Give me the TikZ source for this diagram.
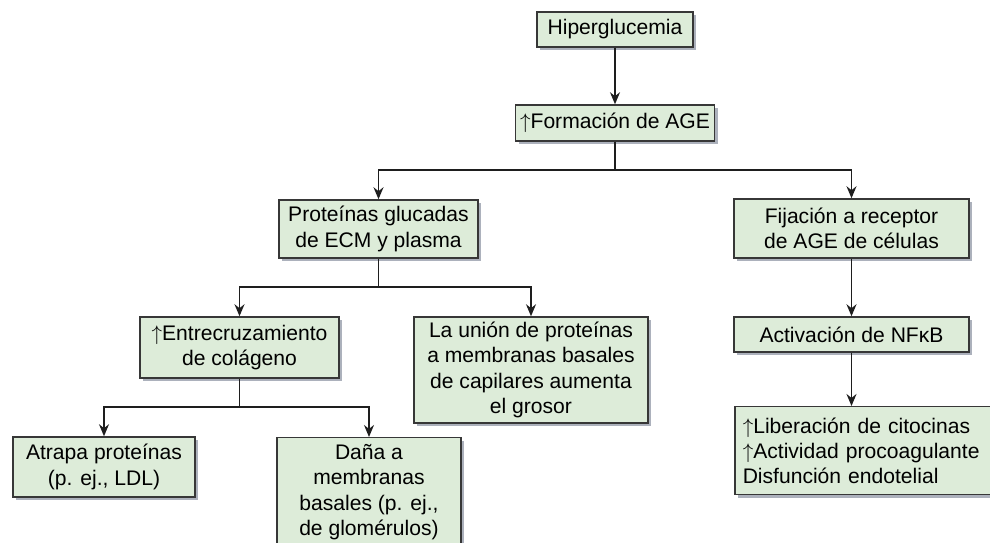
\documentclass[tikz,border=0pt]{standalone}
\usepackage{fontspec}
\setsansfont{Liberation Sans}
\usetikzlibrary{shadows, arrows.meta}
\definecolor{boxfill}{RGB}{221,236,217}
\definecolor{boxline}{RGB}{55,55,55}
\definecolor{shadowgray}{RGB}{172,177,188}
\definecolor{linkgray}{RGB}{30,30,30}

\tikzset{
  box/.style={draw=boxline, fill=boxfill, line width=0.85pt, align=center, inner sep=2pt,
    drop shadow={shadow xshift=0.06cm, shadow yshift=-0.06cm, fill=shadowgray, opacity=1}},
  arr/.style={-{Stealth[length=2.4mm, width=2mm]}, line width=0.75pt, draw=linkgray},
  link/.style={line width=0.75pt, draw=linkgray},
}

\begin{document}
\begin{tikzpicture}[font=\sffamily\fontsize{12}{14.4}\selectfont]
\useasboundingbox (0,0) rectangle (19.8,10.86);
\clip (0,0) rectangle (19.8,10.86);

% ---- top of the chain ----
\node[box, minimum width=3.12cm, minimum height=0.70cm] (hyper) at (12.30,10.27) {Hiperglucemia};
\node[box, minimum width=3.98cm, minimum height=0.72cm] (form) at (12.30,8.40) {$\uparrow$Formación de AGE};

% ---- second level ----
\node[box, minimum width=3.98cm, minimum height=1.16cm] (prot) at (7.57,6.28) {Proteínas glucadas\\de ECM y plasma};
\node[box, minimum width=4.70cm, minimum height=1.18cm] (fij) at (17.03,6.29) {Fijación a receptor\\de AGE de células};

% ---- left branch ----
\node[box, minimum width=3.98cm, minimum height=1.22cm] (entre) at (4.79,3.91) {$\uparrow$Entrecruzamiento\\de colágeno};
\node[box, minimum width=4.68cm, minimum height=2.12cm] (union) at (10.62,3.46)
   {La unión de proteínas\\a membranas basales\\de capilares aumenta\\el grosor};
\node[box, minimum width=3.64cm, minimum height=1.20cm] (atrapa) at (2.08,1.52) {Atrapa proteínas\\(p. ej., LDL)};
\node[box, anchor=north, minimum width=3.68cm, minimum height=2.18cm] (dana) at (7.38,2.12)
   {Daña a\\membranas\\basales (p. ej.,\\de glomérulos)};

% ---- right branch ----
\node[box, minimum width=4.70cm, minimum height=0.70cm] (activ) at (17.03,4.17) {Activación de NFκB};
\node[box, anchor=north west, align=left, text width=5.5cm, inner xsep=0.16cm, minimum height=1.76cm] (lib) at (14.68,2.74)
   {$\uparrow$Liberación de citocinas\\$\uparrow$Actividad procoagulante\\Disfunción endotelial};

% ---- split points ----
\coordinate (s1) at (12.30,7.46);
\coordinate (s2) at (7.57,5.12);
\coordinate (s3) at (4.79,2.72);

% ---- connectors ----
\draw[arr] (hyper) -- (form);
\draw[link] (form) -- (s1);
\draw[arr] (s1) -| (prot);
\draw[arr] (s1) -| (fij);
\draw[link] (prot) -- (s2);
\draw[arr] (s2) -| (entre);
\draw[arr] (s2) -| (union);
\draw[link] (entre) -- (s3);
\draw[arr] (s3) -| (atrapa);
\draw[arr] (s3) -| (dana);
\draw[arr] (fij) -- (activ);
\draw[arr] (activ.south) -- (activ.south |- lib.north);
\end{tikzpicture}
\end{document}
